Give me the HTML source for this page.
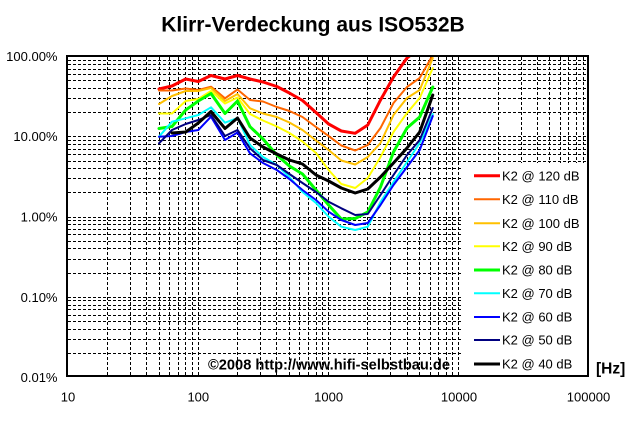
<!DOCTYPE html>
<html>
<head>
<meta charset="utf-8">
<style>
  html, body { margin: 0; padding: 0; background: #ffffff; }
  svg { display: block; }
  text { font-family: "Liberation Sans", Arial, sans-serif; }
</style>
</head>
<body>
<svg width="640" height="423" viewBox="0 0 640 423" xmlns="http://www.w3.org/2000/svg">
  <rect x="0" y="0" width="640" height="423" fill="#ffffff"/>

  <!-- Title -->
  <text x="313" y="31.5" font-size="21" font-weight="bold" text-anchor="middle" fill="#000">Klirr-Verdeckung aus ISO532B</text>

  <!-- Gridlines -->
  <g stroke="#000" stroke-width="1" stroke-dasharray="3,2" shape-rendering="crispEdges" fill="none">
    <!-- vertical -->
    <path d="
      M107.5 57V376 M130.5 57V376 M146.5 57V376 M159.5 57V376 M169.5 57V376 M178.5 57V376 M185.5 57V376 M192.5 57V376 M198.5 57V376
      M237.5 57V376 M260.5 57V376 M276.5 57V376 M289.5 57V376 M299.5 57V376 M308.5 57V376 M316.5 57V376 M322.5 57V376 M328.5 57V376
      M367.5 57V376 M390.5 57V376 M407.5 57V376 M419.5 57V376 M430.5 57V376 M438.5 57V376 M446.5 57V376 M452.5 57V376 M458.5 57V376
      M498.5 57V376 M521.5 57V376 M537.5 57V376 M549.5 57V376 M560.5 57V376 M568.5 57V376 M576.5 57V376 M583.5 57V376"/>
    <!-- horizontal -->
    <path d="
      M68 353.5H587 M68 339.5H587 M68 329.5H587 M68 321.5H587 M68 315.5H587 M68 309.5H587 M68 305.5H587 M68 300.5H587 M68 297.5H587
      M68 273.5H587 M68 259.5H587 M68 248.5H587 M68 241.5H587 M68 234.5H587 M68 229.5H587 M68 224.5H587 M68 220.5H587 M68 217.5H587
      M68 192.5H587 M68 178.5H587 M68 168.5H587 M68 161.5H587 M68 154.5H587 M68 149.5H587 M68 144.5H587 M68 140.5H587 M68 136.5H587
      M68 112.5H587 M68 98.5H587 M68 88.5H587 M68 80.5H587 M68 74.5H587 M68 69.5H587 M68 64.5H587 M68 60.5H587"/>
  </g>

  <defs>
    <clipPath id="plot">
      <rect x="67" y="57" width="521" height="319"/>
    </clipPath>
  </defs>

  <!-- Series -->
  <g clip-path="url(#plot)" fill="none" stroke-linejoin="round" stroke-linecap="round">
    <!-- 120 dB red -->
    <polyline stroke="#ff0000" stroke-width="3" points="159,89 172,86 185.7,79 198.3,81.5 211,75.5 225,79 237.5,75.5 250,79 263,82 276.8,86.5 289.4,93 302.5,100.5 316,112.5 328.6,124 341.3,131 355.2,133.3 367.8,125 380.5,100 393.5,77 407,58 419.7,48 432.8,38"/>
    <!-- 110 dB orange -->
    <polyline stroke="#ff6600" stroke-width="2" points="159,90.5 172,90.5 185.7,88.5 198.3,90 211,86.7 225,98.3 237.5,89.5 250,100 263,101.5 276.8,107 289.4,111 302.5,117 316,127 328.6,136 341.3,145.5 355.2,150.5 367.8,145 380.5,128 393.5,103 407,87 419.7,78 432.8,55"/>
    <!-- 100 dB gold -->
    <polyline stroke="#ffc000" stroke-width="2" points="159,104 172,96 185.7,91 198.3,91 211,88 225,101 237.5,94 250,108.3 263,113.5 276.8,117 289.4,122.5 302.5,130 316,140.5 328.6,150 341.3,160.5 355.2,164.5 367.8,157 380.5,143 393.5,115 407,98 419.7,90 432.8,58"/>
    <!-- 90 dB yellow -->
    <polyline stroke="#ffff00" stroke-width="2" points="159,113.5 172,113.5 185.7,101 198.3,99 211,91 225,103.5 237.5,97.5 250,114 263,120.5 276.8,126.5 289.4,133 302.5,141.5 316,153 328.6,170 341.3,184 355.2,188 367.8,178 380.5,157 393.5,132 407,113 419.7,98 432.8,68"/>
    <!-- 80 dB green -->
    <polyline stroke="#00ff00" stroke-width="3" points="159,128.5 172,126.5 185.7,110 198.3,101 211,93.5 225,113.5 237.5,101 250,126.7 263,139 276.8,155 289.4,166 302.5,174 316,190 328.6,205 341.3,219 355.2,218.5 367.8,212 380.5,187 393.5,152 407,128 419.7,117 432.8,87"/>
    <!-- 70 dB cyan -->
    <polyline stroke="#00ffff" stroke-width="2" points="159,136.7 172,121.7 185.7,118.3 198.3,115 211,107.3 225,122.7 237.5,118 250,145 263,157 276.8,165 289.4,177 302.5,192 316,203 328.6,216.7 341.3,226.7 355.2,230 367.8,226.7 380.5,202 393.5,182 407,162 419.7,143 432.8,114"/>
    <!-- 60 dB blue -->
    <polyline stroke="#0000ff" stroke-width="2" points="159,136.7 172,136 185.7,132 198.3,130 211,116.7 225,140 237.5,132.5 250,153.3 263,163 276.8,170 289.4,179 302.5,190 316,200 328.6,211.7 341.3,220 355.2,225 367.8,223 380.5,205 393.5,185 407,167 419.7,150 432.8,116"/>
    <!-- 50 dB navy -->
    <polyline stroke="#000080" stroke-width="2" points="159,143.3 172,130 185.7,124 198.3,120 211,115 225,136 237.5,130 250,148.3 263,160 276.8,165 289.4,174 302.5,183 316,192 328.6,201.7 341.3,208.3 355.2,215 367.8,214 380.5,195 393.5,175 407,155 419.7,140 432.8,108"/>
    <!-- 40 dB black -->
    <polyline stroke="#000000" stroke-width="3" points="172,133 185.7,132 198.3,123 211,111.5 225,128.5 237.5,118 250,138 263,147 276.8,154 289.4,160 302.5,164 316,175 328.6,181 341.3,188 355.2,193 367.8,189 380.5,177 393.5,163 407,148 419.7,132 432.8,95"/>
  </g>

  <!-- Legend -->
  <rect x="461" y="163" width="126" height="212" fill="#ffffff"/>
  <g stroke-linecap="butt">
    <line x1="474" y1="175.7" x2="500" y2="175.7" stroke="#ff0000" stroke-width="3"/>
    <line x1="474" y1="199.3" x2="500" y2="199.3" stroke="#ff6600" stroke-width="2"/>
    <line x1="474" y1="223.3" x2="500" y2="223.3" stroke="#ffc000" stroke-width="2"/>
    <line x1="474" y1="246.3" x2="500" y2="246.3" stroke="#ffff00" stroke-width="2"/>
    <line x1="474" y1="270" x2="500" y2="270" stroke="#00ff00" stroke-width="3"/>
    <line x1="474" y1="293.3" x2="500" y2="293.3" stroke="#00ffff" stroke-width="2"/>
    <line x1="474" y1="317" x2="500" y2="317" stroke="#0000ff" stroke-width="2"/>
    <line x1="474" y1="340" x2="500" y2="340" stroke="#000080" stroke-width="2"/>
    <line x1="474" y1="364" x2="500" y2="364" stroke="#000000" stroke-width="3"/>
  </g>
  <g font-size="13" fill="#000">
    <text x="502" y="180.4">K2 @ 120 dB</text>
    <text x="502" y="204">K2 @ 110 dB</text>
    <text x="502" y="228">K2 @ 100 dB</text>
    <text x="502" y="251">K2 @ 90 dB</text>
    <text x="502" y="274.7">K2 @ 80 dB</text>
    <text x="502" y="298">K2 @ 70 dB</text>
    <text x="502" y="321.7">K2 @ 60 dB</text>
    <text x="502" y="344.7">K2 @ 50 dB</text>
    <text x="502" y="368.7">K2 @ 40 dB</text>
  </g>

  <!-- Copyright -->
  <text x="208" y="369.3" font-size="14.6" font-weight="bold" fill="#000" textLength="242" lengthAdjust="spacingAndGlyphs">©2008 http://www.hifi-selbstbau.de</text>

  <!-- Plot border -->
  <rect x="67" y="56" width="521" height="320" fill="none" stroke="#000" stroke-width="2" shape-rendering="crispEdges"/>

  <!-- Y axis labels -->
  <g font-size="13" fill="#000" text-anchor="end">
    <text x="57.5" y="61">100.00%</text>
    <text x="57.5" y="141">10.00%</text>
    <text x="57.5" y="221.5">1.00%</text>
    <text x="57.5" y="302">0.10%</text>
    <text x="57.5" y="382">0.01%</text>
  </g>

  <!-- X axis labels -->
  <g font-size="13" fill="#000" text-anchor="middle">
    <text x="68" y="401.5">10</text>
    <text x="198.3" y="401.5">100</text>
    <text x="328.6" y="401.5">1000</text>
    <text x="459" y="401.5">10000</text>
    <text x="588.5" y="401.5">100000</text>
  </g>

  <!-- Unit -->
  <text x="596" y="373.5" font-size="15.5" font-weight="bold" fill="#000">[Hz]</text>
</svg>
</body>
</html>
